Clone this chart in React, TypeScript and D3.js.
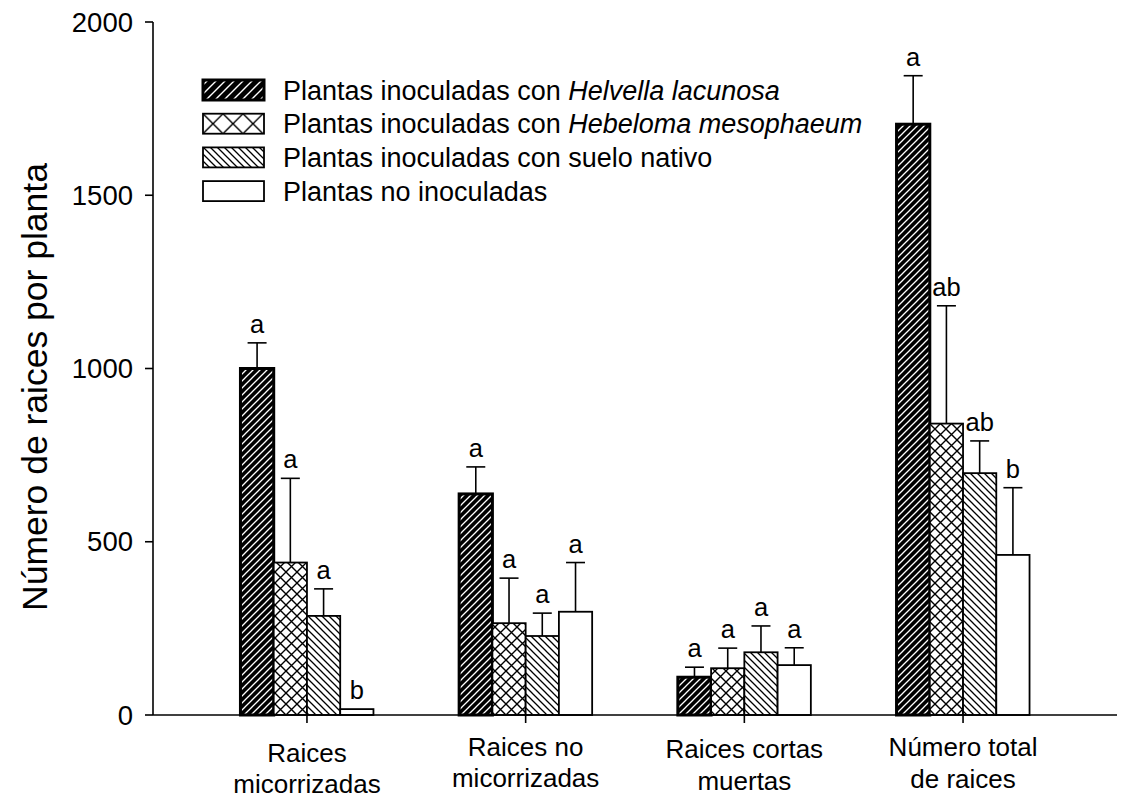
import React from 'react';
import * as d3 from 'd3';

const categories: string[][] = [
  ['Raices', 'micorrizadas'],
  ['Raices no', 'micorrizadas'],
  ['Raices cortas', 'muertas'],
  ['Número total', 'de raices'],
];
const seriesKeys = ['helvella', 'hebeloma', 'suelo', 'noInoc'];

const helvella = [1000, 638, 109, 1705];
const hebeloma = [440, 265, 135, 841];
const suelo = [286, 228, 181, 698];
const noInoc = [17, 298, 144, 462];

const helvellaErr = [74, 78, 29, 140];
const hebelomaErr = [243, 130, 58, 340];
const sueloErr = [78, 66, 76, 93];
const noInocErr = [0, 142, 50, 194];

const helvellaLetters = ['a', 'a', 'a', 'a'];
const hebelomaLetters = ['a', 'a', 'a', 'ab'];
const sueloLetters = ['a', 'a', 'a', 'ab'];
const noInocLetters = ['b', 'a', 'a', 'b'];

const yTicks = [0, 500, 1000, 1500, 2000];

const legendLabels: [string, string][] = [
  ['Plantas inoculadas con ', 'Helvella lacunosa'],
  ['Plantas inoculadas con ', 'Hebeloma mesophaeum'],
  ['Plantas inoculadas con suelo nativo', ''],
  ['Plantas no inoculadas', ''],
];

const values = [helvella, hebeloma, suelo, noInoc];
const errors = [helvellaErr, hebelomaErr, sueloErr, noInocErr];
const letters = [helvellaLetters, hebelomaLetters, sueloLetters, noInocLetters];

const FONT = "'Liberation Sans', Arial, Helvetica, sans-serif";

function SText(props: {
  x: number; y: number; size: number; anchor?: string; children: React.ReactNode; rotate?: boolean;
}) {
  const { x, y, size, anchor = 'start', children, rotate } = props;
  const tr = rotate ? `translate(${x},${y}) rotate(-90)` : `translate(${x},${y})`;
  return (
    <text transform={tr} fontSize={size} fontFamily={FONT} textAnchor={anchor as any} fill="#000">
      {children}
    </text>
  );
}

export default function App() {
  const left = 153, right = 1117, top = 22, bottom = 715;
  const y = d3.scaleLinear().domain([0, 2000]).range([bottom, top]);
  const x = d3.scalePoint<number>().domain(d3.range(categories.length)).range([left, right]).padding(0.704);
  const groupW = 133;
  const xs = d3.scaleBand<string>().domain(seriesKeys).range([-groupW / 2, groupW / 2]).paddingInner(0);
  const bw = xs.bandwidth();

  const fills = ['url(#p0)', 'url(#p1)', 'url(#p2)', '#fff'];
  const legendFills = ['url(#l0)', 'url(#l1)', 'url(#l2)', '#fff'];
  const labelBase = [[762, 793], [756, 787], [758, 790], [756, 788]];

  const legX = 203, legY0 = 80, legStep = 33.7, boxW = 61, boxH = 20;

  return (
    <svg width={1123} height={800} style={{ position: 'absolute', left: 0, top: 0, background: '#fff' }}>
      <defs>
        <pattern id="p0" patternUnits="userSpaceOnUse" width={7} height={7}>
          <rect width={7} height={7} fill="#000" />
          <path d="M-1,1 l2,-2 M0,7 l7,-7 M6,8 l2,-2" stroke="#fff" strokeWidth={1.3} />
        </pattern>
        <pattern id="p1" patternUnits="userSpaceOnUse" width={11} height={11}>
          <rect width={11} height={11} fill="#fff" />
          <path d="M0,0 L11,11 M11,0 L0,11" stroke="#000" strokeWidth={1.4} />
        </pattern>
        <pattern id="p2" patternUnits="userSpaceOnUse" width={7} height={7}>
          <rect width={7} height={7} fill="#fff" />
          <path d="M-1,6 l2,2 M0,0 l7,7 M6,-1 l2,2" stroke="#000" strokeWidth={1.3} />
        </pattern>
        <pattern id="l0" patternUnits="userSpaceOnUse" width={9} height={9}>
          <rect width={9} height={9} fill="#000" />
          <path d="M-1,1 l2,-2 M0,9 l9,-9 M8,10 l2,-2" stroke="#fff" strokeWidth={1.4} />
        </pattern>
        <pattern id="l1" patternUnits="userSpaceOnUse" x={legX} y={legY0 + legStep} width={20} height={20}>
          <rect width={20} height={20} fill="#fff" />
          <path d="M0,0 L20,20 M20,0 L0,20" stroke="#000" strokeWidth={1.4} />
        </pattern>
        <pattern id="l2" patternUnits="userSpaceOnUse" width={7} height={7}>
          <rect width={7} height={7} fill="#fff" />
          <path d="M-1,6 l2,2 M0,0 l7,7 M6,-1 l2,2" stroke="#000" strokeWidth={1.3} />
        </pattern>
      </defs>

      {/* bars */}
      {categories.map((_, ci) =>
        seriesKeys.map((k, si) => {
          const v = values[si][ci];
          const bx = (x(ci) as number) + (xs(k) as number);
          const by = y(v);
          const e = errors[si][ci];
          const cx = bx + bw / 2;
          const capY = y(v + e);
          return (
            <g key={`${ci}-${si}`}>
              <rect x={bx} y={by} width={bw} height={bottom - by} fill={fills[si]}
                stroke="#000" strokeWidth={si === 0 ? 3 : 1.8} />
              {e > 0 && (
                <>
                  <line x1={cx} x2={cx} y1={by} y2={capY} stroke="#000" strokeWidth={1.6} />
                  <line x1={cx - 9.5} x2={cx + 9.5} y1={capY} y2={capY} stroke="#000" strokeWidth={1.6} />
                </>
              )}
              <SText x={cx} y={capY - 10} size={25.5} anchor="middle">{letters[si][ci]}</SText>
            </g>
          );
        })
      )}

      {/* axes */}
      <line x1={left} x2={left} y1={top} y2={bottom} stroke="#000" strokeWidth={1.6} />
      <line x1={left} x2={right} y1={bottom} y2={bottom} stroke="#000" strokeWidth={1.6} />
      {yTicks.map((t) => (
        <g key={t}>
          <line x1={left - 8} x2={left} y1={y(t)} y2={y(t)} stroke="#000" strokeWidth={1.6} />
          <SText x={133} y={y(t) + 9.5} size={27.5} anchor="end">{t}</SText>
        </g>
      ))}
      {categories.map((lines, ci) => (
        <g key={ci}>
          <line x1={x(ci) as number} x2={x(ci) as number} y1={bottom} y2={bottom + 8} stroke="#000" strokeWidth={1.6} />
          {lines.map((ln, li) => (
            <SText key={li} x={x(ci) as number} y={labelBase[ci][li]} size={26} anchor="middle">{ln}</SText>
          ))}
        </g>
      ))}

      <SText x={47} y={387} size={35.5} anchor="middle" rotate>Número de raices por planta</SText>

      {/* legend */}
      {legendLabels.map((lab, i) => {
        const ly = legY0 + i * legStep;
        return (
          <g key={i}>
            <rect x={legX} y={ly} width={boxW} height={boxH} fill={legendFills[i]} stroke="#000"
              strokeWidth={i === 0 ? 3 : 1.8} />
            <SText x={283} y={ly + boxH / 2 + 9.5} size={27}>
              {lab[0]}
              {lab[1] && <tspan fontStyle="italic">{lab[1]}</tspan>}
            </SText>
          </g>
        );
      })}
    </svg>
  );
}
